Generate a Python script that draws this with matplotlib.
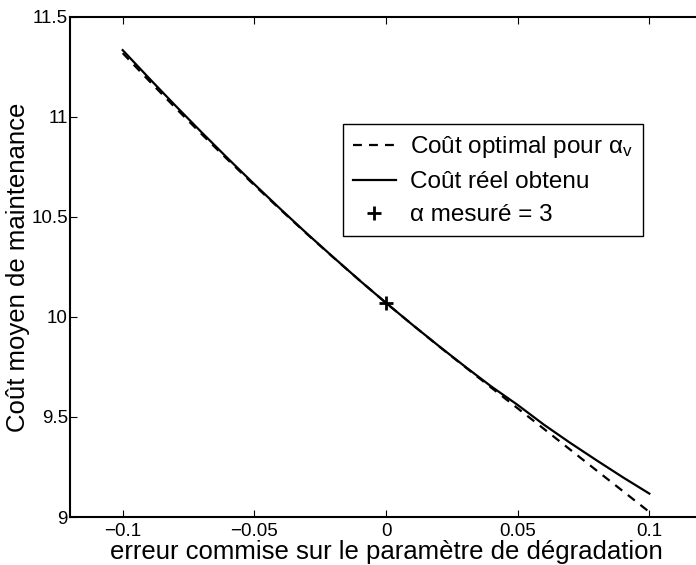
import numpy as np
import matplotlib
matplotlib.use('Agg')
import matplotlib.pyplot as plt

erreur = [-0.10, -0.09, -0.08, -0.07, -0.06, -0.05, -0.04, -0.03, -0.02, -0.01, 0.00,
          0.01, 0.02, 0.03, 0.04, 0.05, 0.06, 0.07, 0.08, 0.09, 0.10]
cout_optimal = [11.318, 11.180, 11.045, 10.913, 10.784, 10.658, 10.535, 10.414, 10.297, 10.182, 10.070,
                9.961, 9.854, 9.750, 9.646, 9.543, 9.440, 9.336, 9.232, 9.129, 9.025]
cout_reel = [11.333, 11.193, 11.056, 10.922, 10.791, 10.663, 10.538, 10.416, 10.298, 10.182, 10.070,
             9.961, 9.855, 9.752, 9.652, 9.560, 9.461, 9.370, 9.283, 9.198, 9.117]
alpha_mesure = [0.0]
cout_mesure = [10.07]

xticks = [-0.1, -0.05, 0, 0.05, 0.1]
xtick_labels = ['\u22120.1', '\u22120.05', '0', '0.05', '0.1']
yticks = [9, 9.5, 10, 10.5, 11, 11.5]
ytick_labels = ['9', '9.5', '10', '10.5', '11', '11.5']

plt.rcParams['font.family'] = ['Liberation Sans', 'DejaVu Sans']
plt.rcParams['mathtext.fontset'] = 'custom'
plt.rcParams['mathtext.rm'] = 'Liberation Sans'
plt.rcParams['mathtext.it'] = 'Liberation Sans'

fig = plt.figure(figsize=(6.96, 5.65), dpi=100)
W, H = 696, 565
# axes box runs past the right edge of the picture, like the original
ax = fig.add_axes([70 / W, 1 - 517 / H, 632 / W, (517 - 16.7) / H])

ax.plot(erreur, cout_optimal, 'k--', lw=1.6, dashes=(4, 3.2), label='Coût optimal pour $\\alpha_{v}$')
ax.plot(erreur, cout_reel, 'k-', lw=1.6, label='Coût réel obtenu')
ax.plot(alpha_mesure, cout_mesure, 'k+', ms=10, mew=2, label='α mesuré = 3')

ax.set_xlim(-0.12, 0.12)
ax.set_ylim(9, 11.5)
ax.set_xticks(xticks)
ax.set_xticklabels(xtick_labels)
ax.set_yticks(yticks)
ax.set_yticklabels(ytick_labels)
ax.tick_params(direction='in', length=5, width=0.8, labelsize=13.5, top=True, right=False)
ax.tick_params(axis='y', pad=1.5)
ax.tick_params(axis='x', pad=4)
for s in ax.spines.values():
    s.set_linewidth(1.5)

ax.set_xlabel('erreur commise sur le paramètre de dégradation', fontsize=18.5, labelpad=0)
ax.set_ylabel('Coût moyen de maintenance', fontsize=18.5, labelpad=1)

leg = ax.legend(loc='upper right', bbox_to_anchor=(0.9066, 0.7855), fontsize=17.5,
                frameon=True, fancybox=False, edgecolor='black', framealpha=1,
                handlelength=1.75, handletextpad=0.6, borderpad=0.42, labelspacing=0.45,
                borderaxespad=0)
leg.get_frame().set_linewidth(1.0)

fig.savefig('out.png', dpi=100)
